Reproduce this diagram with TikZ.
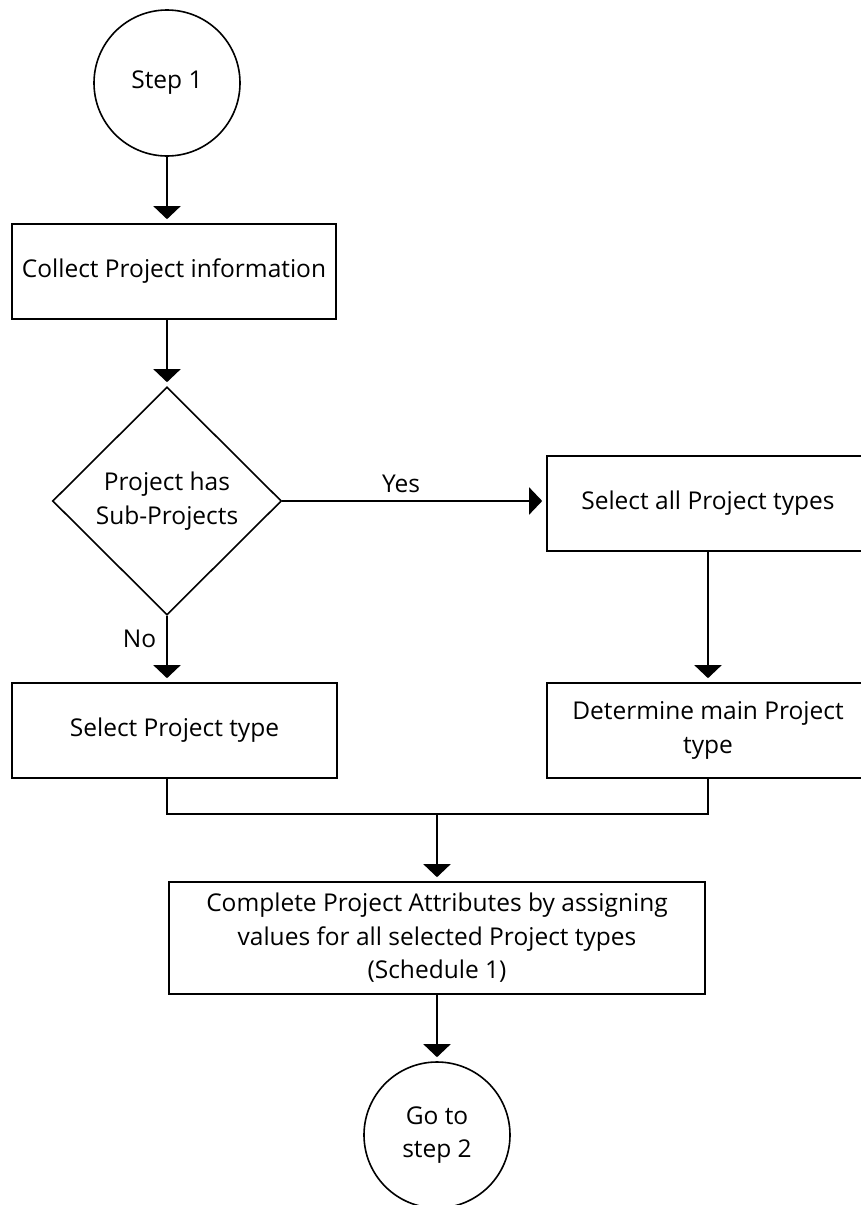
\documentclass[tikz,border=0pt]{standalone}
\usepackage{fontspec}
\setmainfont{Open Sans}
\usepackage{tikz}
\usetikzlibrary{positioning}
\usetikzlibrary{calc,arrows.meta}
\usetikzlibrary{shapes.geometric}

\tikzset{
	flow/.style     = {line width=1.6pt, black},
	box/.style      = {flow, draw, rectangle, inner sep=0pt, align=center,
	                   font=\fontsize{24.5}{33.5}\selectfont},
	circ/.style     = {flow, draw, circle, inner sep=0pt, minimum size=146pt,
	                   align=center, font=\fontsize{24.5}{33.5}\selectfont},
	decision/.style = {flow, draw, diamond, inner sep=0pt, align=center,
	                   minimum width=229pt, minimum height=228pt,
	                   font=\fontsize{24.5}{33.5}\selectfont},
	arr/.style      = {flow, -{Triangle[width=27pt,length=13pt]}, shorten >=4pt},
	lbl/.style      = {font=\fontsize{24.5}{28}\selectfont, inner sep=0pt},
}

\begin{document}
\begin{tikzpicture}[x=1pt, y=-1pt]
	
	% ------------------------------------------------
	% Ensure the dimensions of graphic are appropriate
	\useasboundingbox (0,0) rectangle (861,1205);
	
	% ------------------------------------------------
	% Relevant nodes
	\node[circ] (StartC) at (167,83) {Step 1};
	
	\node[box, minimum width=324pt, minimum height=95pt] (Collect) at (174,271.5)
		{Collect Project information};
	
	\node[decision] (Decide) at (167,501) {Project has\\Sub-Projects};
	
	\node[box, minimum width=322pt, minimum height=95pt] (SelAll) at (708,503.5)
		{Select all Project types};
	\node[box, minimum width=322pt, minimum height=95pt] (DetMain) at (708,730.5)
		{Determine main Project\\type};
	\node[box, minimum width=325pt, minimum height=95pt] (SelOne) at (174.5,730.5)
		{Select Project type};
	
	\node[box, minimum width=536pt, minimum height=112pt] (Complete) at (437,938)
		{Complete Project Attributes by assigning\\values for all selected Project types\\(Schedule 1)};
	
	\node[circ] (EndC) at (437,1135) {Go to\\step 2};
	
	% ----------------
	% Joining line
	\path (Complete.north) +(0,-67) coordinate (JoinM);
	\path (StartC |- JoinM) coordinate (JoinL);
	\path (DetMain.south |- JoinM) coordinate (JoinR);
	
	%%%%%%%%%%%%%%%%%%%%%%%%%%%%%%%%%%%%%%%%%
	%Connectors
	\draw[arr] (StartC.south) -- (StartC |- Collect.north);
	\draw[arr] (StartC |- Collect.south) -- (Decide.north);
	
	\draw[arr] (Decide.east) -- node[lbl, above=7pt, pos=0.45] {Yes} (Decide.east -| SelAll.west);
	\draw[arr] (Decide.south) -- node[lbl, left=10pt, pos=0.34] {No} (StartC |- SelOne.north);
	
	\draw[arr] (SelAll.south) -- (DetMain.north);
	
	\draw[flow] (StartC |- SelOne.south) -- (JoinL) -- (JoinR) -- (DetMain.south);
	\draw[arr] (JoinM) -- (Complete.north);
	\draw[arr] (Complete.south) -- (EndC.north);
	
\end{tikzpicture}
\end{document}
